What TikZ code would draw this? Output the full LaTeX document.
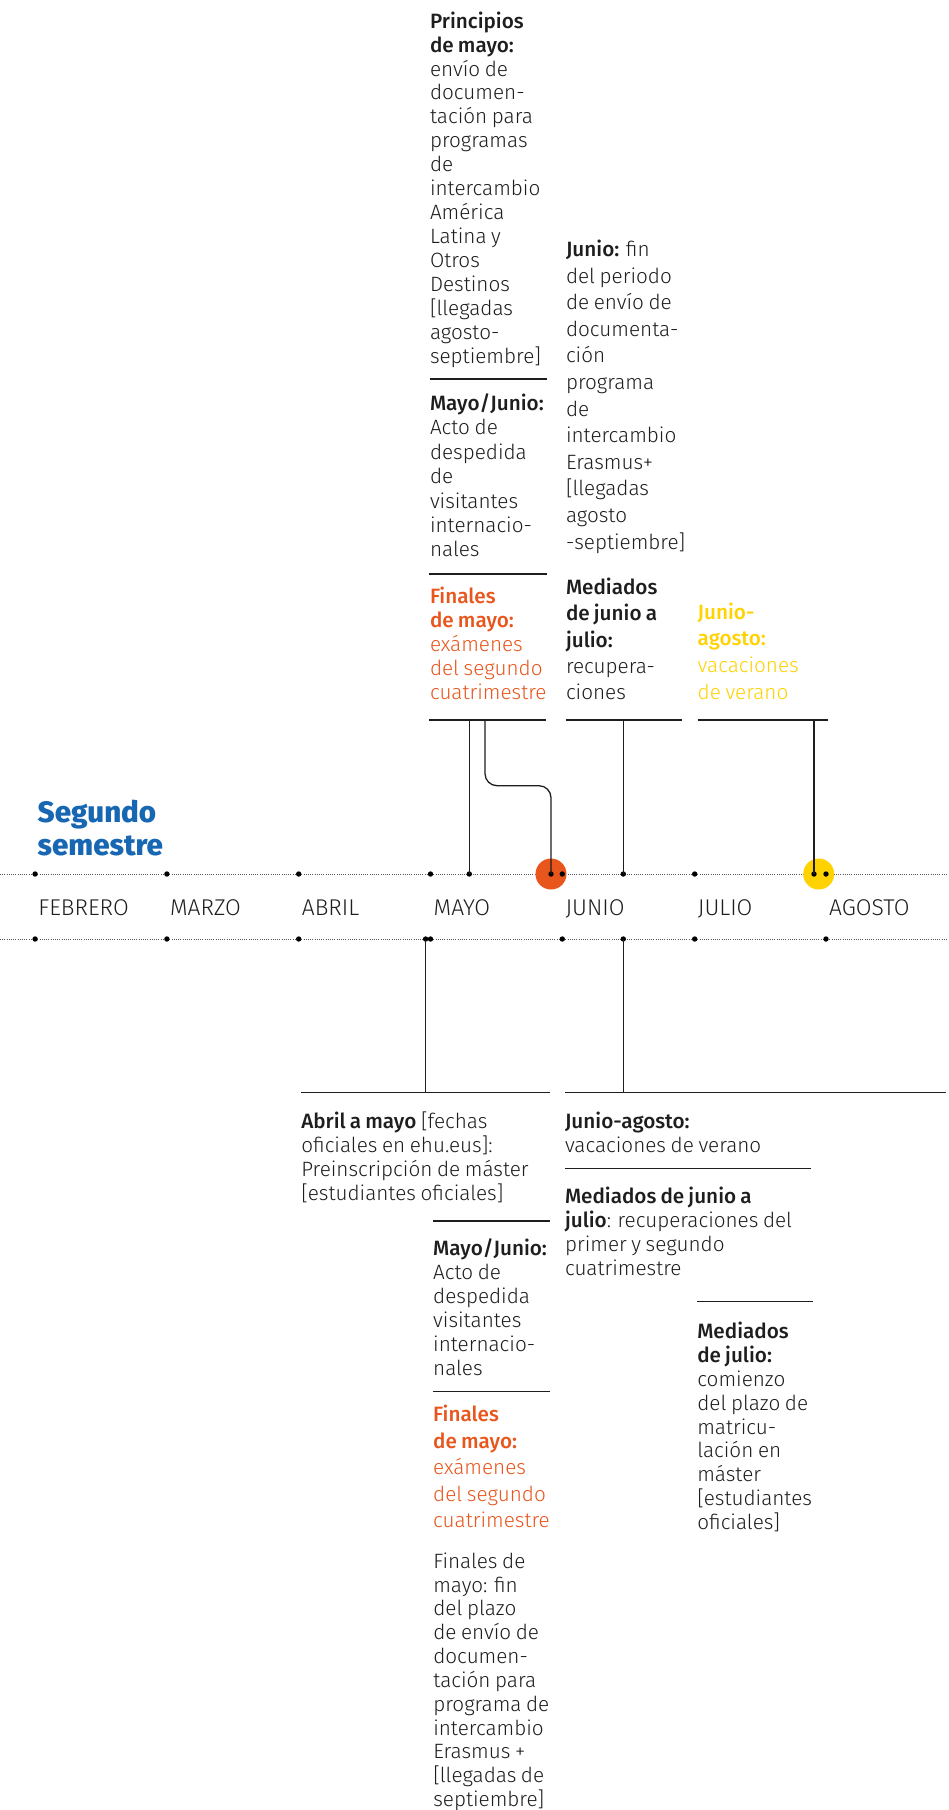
\documentclass[tikz,border=0pt]{standalone}
\usepackage{fontspec}
\IfFontExistsTF{Fira Sans Light}{\def\myup{Fira Sans Light}}{\def\myup{Fira Sans}}
\IfFontExistsTF{Fira Sans Medium}{\def\mybf{Fira Sans Medium}}{\def\mybf{Fira Sans Bold}}
\IfFontExistsTF{Fira Sans ExtraBold}{\def\myhead{Fira Sans ExtraBold}}{\def\myhead{Fira Sans Bold}}
\edef\tmpsetfont{\noexpand\setmainfont{\myup}[BoldFont={\mybf},WordSpace=0.8]}
\tmpsetfont
\edef\tmpsethead{\noexpand\newfontfamily\noexpand\headfont{\myhead}}
\tmpsethead
\definecolor{orng}{HTML}{E8561C}
\definecolor{ylw}{HTML}{FFD200}
\definecolor{blu}{HTML}{1767B3}
\definecolor{ink}{HTML}{1E1E1E}
\newcommand{\nl}{\par}
\newcommand{\tb}[3]{\vtop{\hsize=320pt\parindent=0pt\parskip=0pt\rightskip=0pt plus 1fil\fontsize{#1}{#2}\selectfont\baselineskip=#2pt\lineskiplimit=-100pt\lineskip=0pt\noindent #3\par}}
\newcommand{\fs}{20.7}
\begin{document}
\begin{tikzpicture}[x=1pt,y=-1pt,
  dotline/.style={line width=0.9pt, draw=black!65, dash pattern=on 0.9pt off 1.3pt},
  dot/.style={circle, fill=black, inner sep=0pt, minimum size=5.4pt},
  hl/.style={circle, inner sep=0pt, minimum size=31pt},
  conn/.style={line width=1.3pt, draw=ink},
  rule/.style={line width=1.3pt, draw=ink},
  txt/.style={anchor=base west, inner sep=0pt, outer sep=0pt, text=ink},
  month/.style={anchor=base west, inner sep=0pt, text=ink, font=\fontsize{22.8}{26}\selectfont}]
\useasboundingbox[fill=white] (0,0) rectangle (948,1810);

% ---------- timeline lines ----------
\coordinate (L1a) at (0,874); \coordinate (L1b) at (948,874);
\coordinate (L2a) at (0,939); \coordinate (L2b) at (948,939);
\draw[dotline] (L1a) -- (L1b);
\draw[dotline] (L2a) -- (L2b);

% highlight circles
\node[hl, fill=orng] (oc) at (551,874) {};
\node[hl, fill=ylw] (yc) at (818.7,874) {};

% ---------- heading ----------
\node[txt, text=blu] (head) at (37.7,822.5) {\tb{29.5}{33.3}{\headfont Segundo\nl semestre}};

% ---------- month labels ----------
\node[month] (mfeb) at (38.1,915) {FEBRERO};
\node[month] (mmar) at (169.9,915) {MARZO};
\node[month] (mabr) at (301.7,915) {ABRIL};
\node[month] (mmay) at (433.5,915) {MAYO};
\node[month] (mjun) at (565.3,915) {JUNIO};
\node[month] (mjul) at (697.7,915) {JULIO};
\node[month] (mago) at (829,915) {AGOSTO};

% ---------- top rules ----------
\coordinate (r1a) at (430,379);   \coordinate (r1b) at (546.7,379);
\coordinate (r2a) at (429.3,574); \coordinate (r2b) at (546.7,574);
\coordinate (r3a) at (429.3,720); \coordinate (r3b) at (546.3,720);
\coordinate (r4a) at (565.7,720); \coordinate (r4b) at (681.7,720);
\coordinate (r5a) at (697.7,720); \coordinate (r5b) at (828.3,720);
\draw[rule] (r1a) -- (r1b);
\draw[rule] (r2a) -- (r2b);
\draw[rule] (r3a) -- (r3b);
\draw[rule] (r4a) -- (r4b);
\draw[rule] (r5a) -- (r5b);

% ---------- bottom rules ----------
\coordinate (s1a) at (301.3,1092.7); \coordinate (s1b) at (549.6,1092.7);
\coordinate (s2a) at (565,1092.7);   \coordinate (s2b) at (946,1092.7);
\coordinate (s3a) at (565,1168.7);   \coordinate (s3b) at (811.3,1168.7);
\coordinate (s4a) at (433.2,1221);   \coordinate (s4b) at (549.6,1221);
\coordinate (s5a) at (433.2,1391.7); \coordinate (s5b) at (549.6,1391.7);
\coordinate (s6a) at (697.3,1301.7); \coordinate (s6b) at (813.3,1301.7);
\draw[rule] (s1a) -- (s1b);
\draw[rule] (s2a) -- (s2b);
\draw[rule] (s3a) -- (s3b);
\draw[rule] (s4a) -- (s4b);
\draw[rule] (s5a) -- (s5b);
\draw[rule] (s6a) -- (s6b);

% ---------- dots ----------
\foreach \n/\x in {feb/35.1, mar/166.9, abr/298.7, may/430.5, jun/562.3, jul/694.7, ago/826}{
  \node[dot] (t\n) at (\x,874) {};
  \node[dot] (b\n) at (\x,939) {};
}
\node[dot] (tA) at (469.3,874) {};
\node[dot] (tO) at (551,874) {};
\node[dot] (tJ) at (623.3,874) {};
\node[dot] (tY) at (814,874) {};
\node[dot] (bM) at (425.6,939) {};
\node[dot] (bJ) at (623.3,939) {};

% ---------- connectors ----------
\coordinate (k1) at (485,720);
\coordinate (k2) at (520,785.7);
\draw[conn] (tA.center) -- (tA.center |- r3a);
\draw[conn, rounded corners=12pt] (k1) |- (k2) -| (tO.center);
\draw[conn] (tJ.center) -- (tJ.center |- r4a);
\draw[conn] (tY.center) -- (tY.center |- r5a);
\draw[conn] (bM.center) -- (bM.center |- s1a);
\draw[conn] (bJ.center) -- (bJ.center |- s2a);

% ---------- top texts ----------
\node[txt] (nA) at (430,28.2) {\tb{\fs}{23.93}{\textbf{Principios}\nl \textbf{de mayo:}\nl envío de\nl documen-\nl tación para\nl programas\nl de\nl intercambio\nl América\nl Latina y\nl Otros\nl Destinos\nl [llegadas\nl agosto-\nl septiembre]}};
\node[txt] (nB) at (430,410.5) {\tb{\fs}{24.4}{\textbf{Mayo/Junio:}\nl Acto de\nl despedida\nl de\nl visitantes\nl internacio-\nl nales}};
\node[txt, text=orng] (nC) at (430,603.2) {\tb{\fs}{24.15}{\textbf{Finales}\nl \textbf{de mayo:}\nl exámenes\nl del segundo\nl cuatrimestre}};
\node[txt] (nD) at (566,256.5) {\tb{\fs}{26.6}{\textbf{Junio:} fin\nl del periodo\nl de envío de\nl documenta-\nl ción\nl programa\nl de\nl intercambio\nl Erasmus+\nl [llegadas\nl agosto\nl -septiembre]}};
\node[txt] (nE) at (566,594.8) {\tb{\fs}{26.1}{\textbf{Mediados}\nl \textbf{de junio a}\nl \textbf{julio:}\nl recupera-\nl ciones}};
\node[txt, text=ylw] (nF) at (697.7,619.2) {\tb{\fs}{26.7}{\textbf{Junio-}\nl \textbf{agosto:}\nl vacaciones\nl de verano}};

% ---------- bottom texts ----------
\node[txt] (nG) at (301.3,1128.2) {\tb{\fs}{24.1}{\textbf{Abril a mayo} [fechas\nl oficiales en ehu.eus]:\nl Preinscripción de máster\nl [estudiantes oficiales]}};
\node[txt] (nH) at (565,1128.2) {\tb{\fs}{24.3}{\textbf{Junio-agosto:}\nl vacaciones de verano}};
\node[txt] (nI) at (565,1203.2) {\tb{\fs}{24.1}{\textbf{Mediados de junio a}\nl \textbf{julio}: recuperaciones del\nl primer y segundo\nl cuatrimestre}};
\node[txt] (nJ) at (433.2,1255.5) {\tb{\fs}{23.9}{\textbf{Mayo/Junio:}\nl Acto de\nl despedida\nl visitantes\nl internacio-\nl nales}};
\node[txt, text=orng] (nK) at (433.2,1421.5) {\tb{\fs}{26.5}{\textbf{Finales}\nl \textbf{de mayo:}\nl exámenes\nl del segundo\nl cuatrimestre}};
\node[txt] (nL) at (433.3,1568.2) {\tb{\fs}{23.83}{Finales de\nl mayo: fin\nl del plazo\nl de envío de\nl documen-\nl tación para\nl programa de\nl intercambio\nl Erasmus +\nl [llegadas de\nl septiembre]}};
\node[txt] (nM) at (697.3,1338.2) {\tb{\fs}{23.95}{\textbf{Mediados}\nl \textbf{de julio:}\nl comienzo\nl del plazo de\nl matricu-\nl lación en\nl máster\nl [estudiantes\nl oficiales]}};
\end{tikzpicture}
\end{document}
